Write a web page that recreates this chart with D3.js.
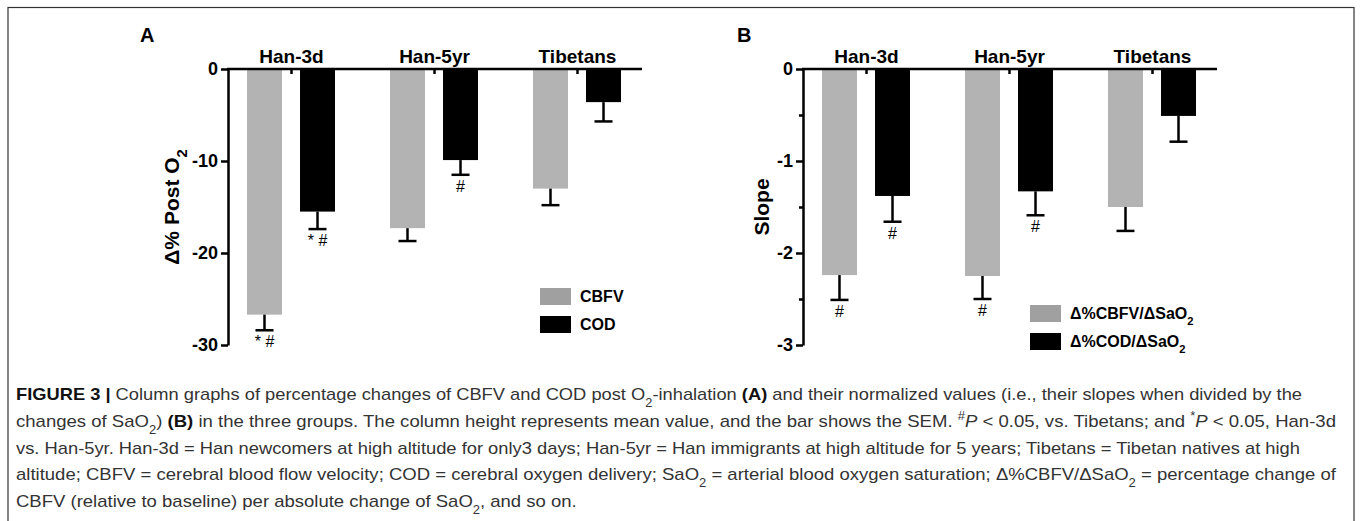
<!DOCTYPE html>
<html>
<head>
<meta charset="utf-8">
<script src="https://cdn.jsdelivr.net/npm/d3@7"></script>
<style>
  body { margin: 0; background: #fff; }
  svg text { font-family: "Liberation Sans", Arial, sans-serif; }
  .cap text { font-family: "Liberation Sans Narrow", "Liberation Sans", sans-serif; }
</style>
</head>
<body>
<svg id="fig" width="1360" height="521"></svg>
<script>
// groups shared by both panels
var groups = ["Han-3d", "Han-5yr", "Tibetans"];
var series = ["CBFV", "COD"];

// panel A: % change post O2 (mean, SEM)
var pctCBFV = [-26.7, -17.3, -13.0];
var pctCBFVsem = [1.7, 1.4, 1.8];
var pctCOD = [-15.5, -9.9, -3.6];
var pctCODsem = [1.9, 1.6, 2.1];
var pctCBFVsig = ["* #", "", ""];
var pctCODsig = ["* #", "#", ""];
var pctTicks = [0, -10, -20, -30];

// panel B: slopes (mean, SEM)
var slopeCBFV = [-2.24, -2.25, -1.50];
var slopeCBFVsem = [0.27, 0.25, 0.26];
var slopeCOD = [-1.38, -1.33, -0.51];
var slopeCODsem = [0.28, 0.26, 0.28];
var slopeCBFVsig = ["#", "#", ""];
var slopeCODsig = ["#", "#", ""];
var slopeTicks = [0, -1, -2, -3];
var slopeMinor = [-0.5, -1.5, -2.5];

var barGray = "#b3b3b3", legGray = "#a0a0a0";

var svg = d3.select("#fig");

// outer frame of the figure (bottom edge falls outside the picture)
svg.append("rect")
    .attr("x", 8).attr("y", 7.5)
    .attr("width", 1346).attr("height", 530)
    .attr("fill", "none").attr("stroke", "#333").attr("stroke-width", 1.2);

function drawPanel(opt) {
    var g = svg.append("g");
    var y = d3.scaleLinear().domain([opt.ticks[opt.ticks.length - 1], 0]).range([345, 69]);
    var xc = d3.scalePoint().domain(groups).range([opt.axisX + 63, opt.axisX + 349]);
    var x1 = d3.scaleBand().domain(series).range([-44, 44]).paddingInner(0.34);

    // panel letter
    g.append("text").attr("x", opt.letterX).attr("y", 42)
        .attr("font-size", 20).attr("font-weight", "bold").text(opt.letter);

    // bars
    var rows = [];
    groups.forEach(function(grp, i){
        rows.push({g: grp, s: "CBFV", v: opt.a[i], e: opt.ae[i], sig: opt.asig[i]});
        rows.push({g: grp, s: "COD", v: opt.b[i], e: opt.be[i], sig: opt.bsig[i]});
    });

    g.selectAll("rect.bar").data(rows).enter().append("rect")
        .attr("class", "bar")
        .attr("x", function(d){ return xc(d.g) + x1(d.s); })
        .attr("y", y(0))
        .attr("width", x1.bandwidth())
        .attr("height", function(d){ return y(d.v) - y(0); })
        .attr("fill", function(d){ return d.s == "CBFV" ? barGray : "#000"; });

    // one-sided error bars (downwards)
    var err = g.append("g").attr("stroke", "#000").attr("stroke-width", 2.5);
    rows.forEach(function(d){
        var cx = xc(d.g) + x1(d.s) + x1.bandwidth() / 2;
        err.append("line").attr("x1", cx).attr("x2", cx)
            .attr("y1", y(d.v)).attr("y2", y(d.v - d.e));
        err.append("line").attr("x1", cx - 9).attr("x2", cx + 9)
            .attr("y1", y(d.v - d.e)).attr("y2", y(d.v - d.e));
        if (d.sig) {
            g.append("text").attr("x", cx).attr("y", y(d.v - d.e) + 17)
                .attr("text-anchor", "middle").attr("font-size", 16)
                .text(d.sig);
        }
    });

    // y axis
    var ya = d3.axisLeft(y).tickValues(opt.ticks).tickSize(7).tickSizeOuter(0)
        .tickPadding(3).tickFormat(function(d){ return String(d); });
    var yg = g.append("g").attr("transform", "translate(" + opt.axisX + ",0)").call(ya);
    yg.select(".domain").attr("stroke-width", 2.5);
    yg.selectAll(".tick line").attr("stroke-width", 2.5);
    yg.selectAll(".tick text").attr("font-size", 18).attr("font-weight", "bold")
        .attr("fill", "#000").attr("font-family", "Liberation Sans, Arial, sans-serif");
    if (opt.minor) {
        var ym = d3.axisLeft(y).tickValues(opt.minor).tickSize(4).tickFormat("");
        var mg = g.append("g").attr("transform", "translate(" + opt.axisX + ",0)").call(ym);
        mg.select(".domain").remove();
        mg.selectAll(".tick line").attr("stroke-width", 2.5);
    }

    // top x axis with group names
    var xa = d3.axisTop(xc).tickSize(-5).tickPadding(6);
    var xg = g.append("g").attr("transform", "translate(0," + y(0) + ")").call(xa);
    xg.select(".domain").remove();
    xg.selectAll(".tick line").attr("stroke-width", 2.5);
    xg.selectAll(".tick text").attr("font-size", 19).attr("font-weight", "bold")
        .attr("fill", "#000").attr("font-family", "Liberation Sans, Arial, sans-serif");
    g.append("line")
        .attr("x1", opt.axisX - 1).attr("x2", xc.range()[1] + 65)
        .attr("y1", y(0)).attr("y2", y(0))
        .attr("stroke", "#000").attr("stroke-width", 2.5);

    // y title
    var t = g.append("text")
        .attr("transform", "translate(" + opt.titleX + "," + ((y.range()[0] + y.range()[1]) / 2) + ") rotate(-90)")
        .attr("text-anchor", "middle").attr("font-size", 21).attr("font-weight", "bold");
    opt.title(t);

    // legend
    var lg = g.append("g").attr("transform", "translate(" + opt.legX + "," + opt.legY + ")");
    opt.legend.forEach(function(lab, i){
        lg.append("rect").attr("x", 0).attr("y", i * 28).attr("width", 31).attr("height", 17)
            .attr("fill", i == 0 ? legGray : "#000");
        var tt = lg.append("text").attr("x", 40).attr("y", i * 28 + 14)
            .attr("font-size", 16).attr("font-weight", "bold");
        lab(tt);
    });
}

function sub(t, base, s) {
    t.append("tspan").text(base);
    t.append("tspan").attr("baseline-shift", "sub").attr("font-size", "70%").text(s);
}

drawPanel({
    letter: "A", letterX: 140, axisX: 228, titleX: 179,
    a: pctCBFV, ae: pctCBFVsem, b: pctCOD, be: pctCODsem,
    asig: pctCBFVsig, bsig: pctCODsig, ticks: pctTicks,
    title: function(t){ sub(t, "\u0394% Post O", "2"); },
    legX: 540, legY: 288,
    legend: [function(t){ t.text("CBFV"); }, function(t){ t.text("COD"); }]
});

drawPanel({
    letter: "B", letterX: 737, axisX: 803, titleX: 769,
    a: slopeCBFV, ae: slopeCBFVsem, b: slopeCOD, be: slopeCODsem,
    asig: slopeCBFVsig, bsig: slopeCODsig, ticks: slopeTicks, minor: slopeMinor,
    title: function(t){ t.text("Slope"); },
    legX: 1030, legY: 305,
    legend: [function(t){ sub(t, "\u0394%CBFV/\u0394SaO", "2"); },
             function(t){ sub(t, "\u0394%COD/\u0394SaO", "2"); }]
});

// caption
var cap = svg.append("g").attr("class", "cap").attr("fill", "#333").attr("font-size", 17);
var capLines = [
    [["b", "FIGURE 3 | "], ["", "Column graphs of percentage changes of CBFV and COD post O"], ["sub", "2"], ["", "-inhalation "], ["b", "(A)"], ["", " and their normalized values (i.e., their slopes when divided by the"]],
    [["", "changes of SaO"], ["sub", "2"], ["", ") "], ["b", "(B)"], ["", " in the three groups. The column height represents mean value, and the bar shows the SEM. "], ["sup", "#"], ["i", "P"], ["", " < 0.05, vs. Tibetans; and "], ["sup", "*"], ["i", "P"], ["", " < 0.05, Han-3d"]],
    [["", "vs. Han-5yr. Han-3d = Han newcomers at high altitude for only3 days; Han-5yr = Han immigrants at high altitude for 5 years; Tibetans = Tibetan natives at high"]],
    [["", "altitude; CBFV = cerebral blood flow velocity; COD = cerebral oxygen delivery; SaO"], ["sub", "2"], ["", " = arterial blood oxygen saturation; \u0394%CBFV/\u0394SaO"], ["sub", "2"], ["", " = percentage change of"]],
    [["", "CBFV (relative to baseline) per absolute change of SaO"], ["sub", "2"], ["", ", and so on."]]
];
var capWidths = [1286, 1320, 1284, 1320, null];
var lineY = d3.scaleLinear().domain([0, 4]).range([400, 507]);
var scaleFit = 1;
capLines.forEach(function(parts, i){
    var t = cap.append("text").attr("x", 16).attr("y", lineY(i));
    parts.forEach(function(p){
        var s = t.append("tspan").text(p[1]);
        if (p[0] == "b") s.attr("font-weight", "bold").attr("fill", "#111");
        if (p[0] == "i") s.attr("font-style", "italic");
        if (p[0] == "sub") s.attr("baseline-shift", "sub").attr("font-size", "70%");
        if (p[0] == "sup") s.attr("baseline-shift", "super").attr("font-size", "70%");
    });
    var w = t.node().getComputedTextLength();
    if (capWidths[i]) {
        scaleFit = capWidths[i] / w;
        t.attr("textLength", capWidths[i]).attr("lengthAdjust", "spacingAndGlyphs");
    } else {
        t.attr("textLength", w * scaleFit).attr("lengthAdjust", "spacingAndGlyphs");
    }
});
</script>
</body>
</html>
